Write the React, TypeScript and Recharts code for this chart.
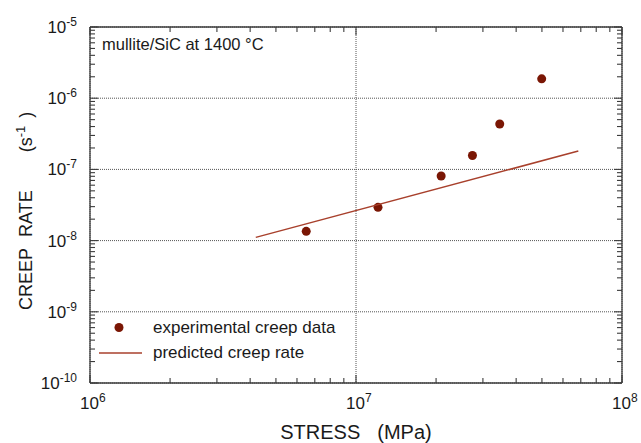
import { ScatterChart, Scatter, XAxis, YAxis, CartesianGrid, Legend, Customized } from 'recharts'

const stress = [6.5e6, 1.21e7, 2.09e7, 2.74e7, 3.47e7, 4.99e7]
const creepRate = [1.35e-8, 2.93e-8, 8.07e-8, 1.57e-7, 4.34e-7, 1.87e-6]

// predicted creep rate line end points
const predStress = [4.2e6, 6.85e7]
const predRate = [1.11e-8, 1.81e-7]

const xMajor = [1e6, 1e7, 1e8]
const xTicks = [
  1e6, 2e6, 3e6, 4e6, 5e6, 6e6, 7e6, 8e6, 9e6,
  1e7, 2e7, 3e7, 4e7, 5e7, 6e7, 7e7, 8e7, 9e7, 1e8,
]
const yMajor = [1e-10, 1e-9, 1e-8, 1e-7, 1e-6, 1e-5]
const yTicks = [
  1e-10, 2e-10, 3e-10, 4e-10, 5e-10, 6e-10, 7e-10, 8e-10, 9e-10,
  1e-9, 2e-9, 3e-9, 4e-9, 5e-9, 6e-9, 7e-9, 8e-9, 9e-9,
  1e-8, 2e-8, 3e-8, 4e-8, 5e-8, 6e-8, 7e-8, 8e-8, 9e-8,
  1e-7, 2e-7, 3e-7, 4e-7, 5e-7, 6e-7, 7e-7, 8e-7, 9e-7,
  1e-6, 2e-6, 3e-6, 4e-6, 5e-6, 6e-6, 7e-6, 8e-6, 9e-6, 1e-5,
]

// axes run in decades (log10 of the values)
const lg = (v: number) => Math.log10(v)
const expData = stress.map((x, i) => ({ lx: lg(x), ly: lg(creepRate[i]) }))
const predData = predStress.map((x, i) => ({ lx: lg(x), ly: lg(predRate[i]) }))

const FONT = '"Liberation Sans", Arial, Helvetica, sans-serif'
const TEXT = '#1a1a1a'
const AXIS = '#3c3c3c'
const DOT = '#7a1604'
const LINE = '#a8402c'

const xDomain: [number, number] = [lg(xMajor[0]), lg(xMajor[xMajor.length - 1])]
const yDomain: [number, number] = [lg(yMajor[0]), lg(yMajor[yMajor.length - 1])]

const isDecade = (v: number) => Math.abs(v - Math.round(v)) < 1e-6

// direction of an inward tick for each side of the frame
const inward: Record<string, [number, number]> = {
  bottom: [0, -1],
  top: [0, 1],
  left: [1, 0],
  right: [-1, 0],
}

// inward tick mark (long on decades) and, on bottom/left, the decade label
const LogTick = (props: any) => {
  const { x, y, payload, side } = props
  const v = payload.value
  const major = isDecade(v)
  const len = major ? 8 : 5
  const [dx, dy] = inward[side]
  const e = Math.round(v)
  return (
    <g>
      <line x1={x} y1={y} x2={x + dx * len} y2={y + dy * len} stroke={AXIS} strokeWidth={1.1} />
      {major && side === 'bottom' && (
        <text x={x - 10} y={y + 26} fontSize={17} fill={TEXT} fontFamily={FONT}>
          10<tspan dy={-7} fontSize={12}>{e}</tspan>
        </text>
      )}
      {major && side === 'left' && (
        <text x={x - 13} y={y + 6} fontSize={17} fill={TEXT} fontFamily={FONT} textAnchor="end">
          10<tspan dy={-7} fontSize={12}>{e}</tspan>
        </text>
      )}
    </g>
  )
}

const XTitle = ({ viewBox }: any) => (
  <text
    x={viewBox.x + viewBox.width / 2}
    y={viewBox.y + 56}
    textAnchor="middle"
    fontSize={20}
    fill={TEXT}
    fontFamily={FONT}
  >
    STRESS<tspan dx={17}>(MPa)</tspan>
  </text>
)

const YTitle = ({ viewBox }: any) => (
  <text
    transform={`translate(32, ${viewBox.y + viewBox.height / 2 + 105}) rotate(-90)`}
    fontSize={18}
    fill={TEXT}
    fontFamily={FONT}
  >
    CREEP<tspan dx={11}>RATE</tspan>
    <tspan dx={38}>(s</tspan>
    <tspan dy={-7} fontSize={13}>-1</tspan>
    <tspan dy={7} dx={8}>)</tspan>
  </text>
)

const Note = () => (
  <text x={102} y={50} fontSize={16.5} fill={TEXT} fontFamily={FONT}>
    mullite/SiC at 1400 °C
  </text>
)

const legendNames = ['experimental creep data', 'predicted creep rate']

const LegendBox = ({ payload }: any) => (
  <div style={{ fontFamily: FONT, fontSize: 17, color: TEXT }}>
    {(payload || [])
      .filter((p: any) => legendNames.includes(p.value))
      .map((p: any) => (
        <div key={p.value} style={{ display: 'flex', alignItems: 'center', height: 25 }}>
          <svg width={48} height={25} style={{ marginRight: 8 }}>
            {p.value === legendNames[0] ? (
              <circle cx={22} cy={12.5} r={4.5} fill={DOT} />
            ) : (
              <line x1={2} x2={45} y1={13} y2={13} stroke={LINE} strokeWidth={1.5} />
            )}
          </svg>
          <span>{p.value}</span>
        </div>
      ))}
  </div>
)

const frame = { stroke: AXIS, strokeWidth: 1.3 }

const xAxisCommon = {
  dataKey: 'lx',
  type: 'number' as const,
  domain: xDomain,
  allowDataOverflow: true,
  ticks: xTicks.map(lg),
  interval: 0,
  height: 1,
  tickSize: 0,
  tickMargin: 0,
  tickLine: false,
  axisLine: frame,
}

const yAxisCommon = {
  dataKey: 'ly',
  type: 'number' as const,
  domain: yDomain,
  allowDataOverflow: true,
  ticks: yTicks.map(lg),
  interval: 0,
  width: 1,
  tickSize: 0,
  tickMargin: 0,
  tickLine: false,
  axisLine: frame,
}

export default function App() {
  return (
    <div style={{ position: 'absolute', left: 0, top: 0, background: '#fff' }}>
      <ScatterChart width={641} height={443} margin={{ top: 26, right: 18, bottom: 59, left: 89 }}>
        <CartesianGrid
          xAxisId="b"
          yAxisId="l"
          stroke="#555"
          strokeDasharray="1 1"
          strokeWidth={1}
          horizontalValues={yMajor.map(lg)}
          verticalValues={xMajor.map(lg)}
        />

        <XAxis xAxisId="b" {...xAxisCommon} tick={<LogTick side="bottom" />} label={{ content: <XTitle /> }} />
        <YAxis yAxisId="l" {...yAxisCommon} tick={<LogTick side="left" />} label={{ content: <YTitle /> }} />
        <XAxis xAxisId="t" orientation="top" {...xAxisCommon} tick={<LogTick side="top" />} />
        <YAxis yAxisId="r" orientation="right" {...yAxisCommon} tick={<LogTick side="right" />} />

        <Scatter
          name="experimental creep data"
          data={expData}
          xAxisId="b"
          yAxisId="l"
          fill={DOT}
          isAnimationActive={false}
          shape={(p: any) => <circle cx={p.cx} cy={p.cy} r={4.5} fill={DOT} />}
        />
        <Scatter
          name="predicted creep rate"
          data={predData}
          xAxisId="b"
          yAxisId="l"
          fill={LINE}
          line={{ stroke: LINE, strokeWidth: 1.5 }}
          lineType="joint"
          isAnimationActive={false}
          shape={() => <g />}
        />
        {/* same points on the top/right frame axes, drawn invisibly so those axes render */}
        <Scatter
          data={expData}
          xAxisId="t"
          yAxisId="r"
          legendType="none"
          isAnimationActive={false}
          shape={() => <g />}
        />
        <Legend
          layout="vertical"
          align="center"
          verticalAlign="middle"
          content={<LegendBox />}
          wrapperStyle={{ left: 97, top: 315, width: 'auto', height: 'auto' }}
        />
        <Customized component={<Note />} />
      </ScatterChart>
    </div>
  )
}
